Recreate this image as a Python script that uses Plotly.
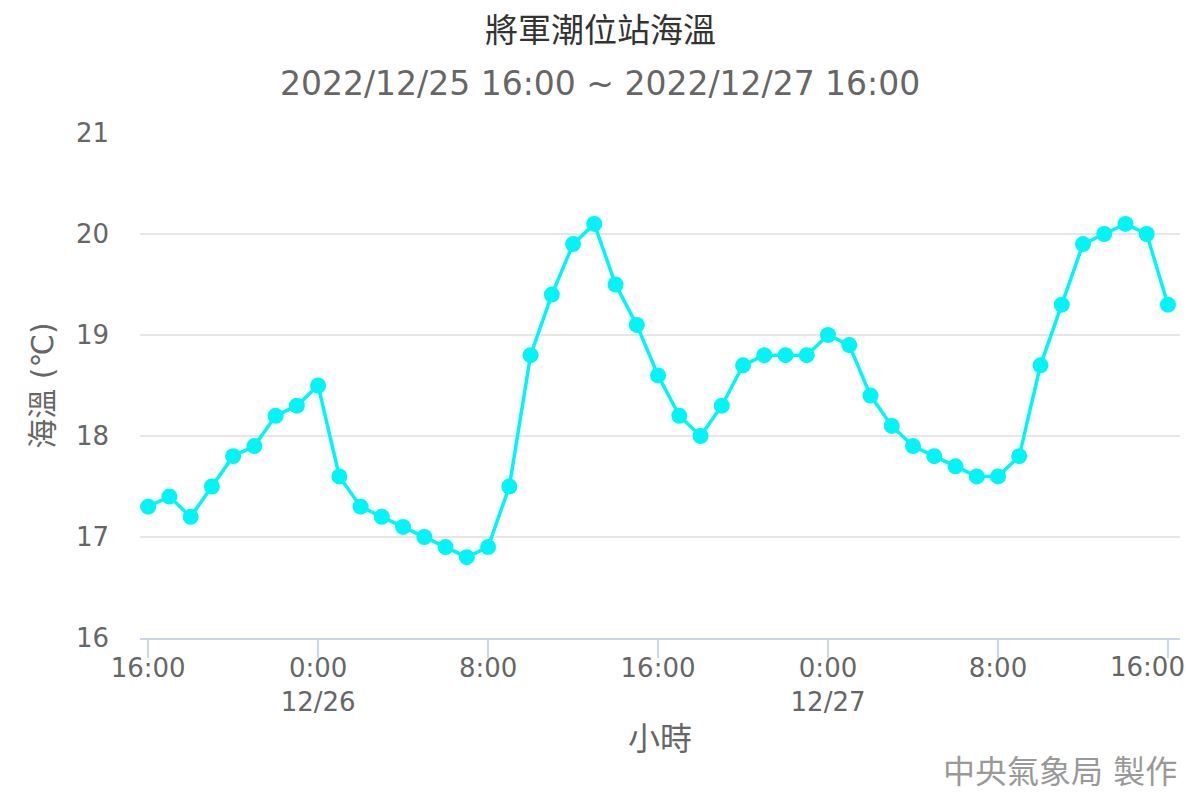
import pandas as pd
import plotly.graph_objects as go

# hourly sea temperature, 2022/12/25 16:00 to 2022/12/27 16:00
times = pd.date_range("2022-12-25 16:00", "2022-12-27 16:00", freq="h")
temps = [
    17.3, 17.4, 17.2, 17.5, 17.8, 17.9, 18.2, 18.3,
    18.5, 17.6, 17.3, 17.2, 17.1, 17.0, 16.9, 16.8,
    16.9, 17.5, 18.8, 19.4, 19.9, 20.1, 19.5, 19.1,
    18.6, 18.2, 18.0, 18.3, 18.7, 18.8, 18.8, 18.8,
    19.0, 18.9, 18.4, 18.1, 17.9, 17.8, 17.7, 17.6,
    17.6, 17.8, 18.7, 19.3, 19.9, 20.0, 20.1, 20.0,
    19.3,
]
tick_times = pd.date_range("2022-12-25 16:00", "2022-12-27 16:00", freq="8h")
tick_labels = ["16:00", "0:00<br>12/26", "8:00", "16:00",
               "0:00<br>12/27", "8:00", "16:00"]
y_ticks = [16, 17, 18, 19, 20, 21]

title_text = "將軍潮位站海溫"
subtitle_text = "2022/12/25 16:00 ~ 2022/12/27 16:00"

font_family = "DejaVu Sans, Noto Sans CJK TC, sans-serif"
gray = "#666666"
cyan = "#00f6f6"

W, H = 1184, 784  # page body has an 8px margin
ML, MR, MT, MB = 132, 12, 125, 154
page_mid = (W / 2 - ML) / (W - ML - MR)  # page centre in paper coords

fig = go.Figure(go.Scatter(
    x=times,
    y=temps,
    mode="lines+markers",
    line=dict(color=cyan, width=3.5),
    marker=dict(color=cyan, size=16),
    hovertemplate="%{x|%m/%d %H:%M}<br>%{y:.1f} ℃<extra></extra>",
))

# the last tick label is drawn as an annotation, nudged left so it fits the page
axis_ticktext = tick_labels[:-1] + [""]

fig.update_layout(
    width=W,
    height=H,
    paper_bgcolor="white",
    plot_bgcolor="white",
    showlegend=False,
    font=dict(family=font_family, color=gray, size=26),
    margin=dict(l=ML, r=MR, t=MT, b=MB),
    xaxis=dict(
        type="date",
        range=[pd.Timestamp("2022-12-25 15:37"), pd.Timestamp("2022-12-27 16:34")],
        tickvals=tick_times,
        ticktext=axis_ticktext,
        automargin=False,
        showgrid=False,
        showline=True,
        linecolor="#ccd6eb",
        linewidth=1.5,
        ticks="outside",
        ticklen=18,
        tickcolor="#ccd6eb",
        tickwidth=1.5,
        ticklabelstandoff=-12,
        tickfont=dict(size=26, color=gray),
        title=dict(text="小時", font=dict(size=32, color=gray), standoff=12),
        zeroline=False,
    ),
    yaxis=dict(
        range=[16, 21],
        tickvals=y_ticks,
        automargin=False,
        showgrid=True,
        gridcolor="#e6e6e6",
        gridwidth=1.5,
        zeroline=False,
        showline=False,
        ticks="",
        ticklabelstandoff=30,
        tickfont=dict(size=26, color=gray),
        title=dict(text="海溫 (℃)", font=dict(size=30, color=gray), standoff=13),
    ),
    annotations=[
        dict(text=title_text, xref="paper", yref="paper", x=page_mid, y=1,
             xanchor="center", yanchor="middle", yshift=103, showarrow=False,
             font=dict(size=33, color="#333333")),
        dict(text=subtitle_text, xref="paper", yref="paper", x=page_mid, y=1,
             xanchor="center", yanchor="middle", yshift=50, showarrow=False,
             font=dict(size=33, color=gray)),
        dict(text=tick_labels[-1], xref="x", yref="paper", x=tick_times[-1], y=0,
             xanchor="center", yanchor="middle", xshift=-20, yshift=-29,
             showarrow=False, font=dict(size=26, color=gray)),
        dict(text="中央氣象局 製作", xref="paper", yref="paper", x=1, y=0,
             xanchor="right", yanchor="middle", yshift=-134, xshift=-1,
             showarrow=False, font=dict(size=32, color="#999999")),
    ],
)

fig.write_html("out.html")
